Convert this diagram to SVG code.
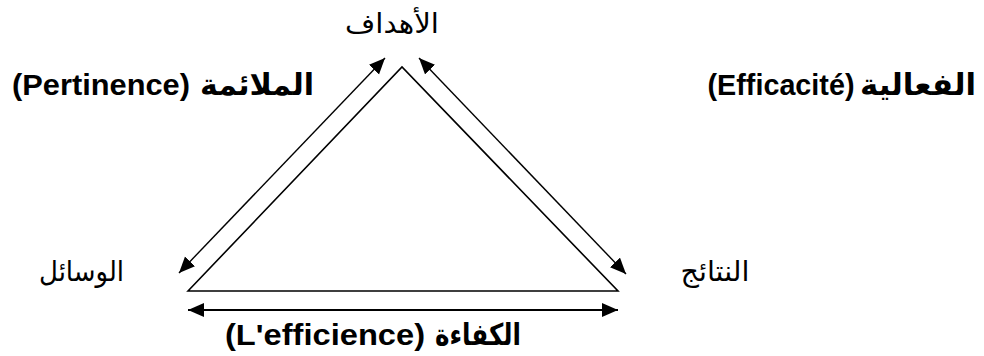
<svg xmlns="http://www.w3.org/2000/svg" width="984" height="356" viewBox="0 0 984 356">
<style>
.lbl{font-family:"Liberation Sans","DejaVu Sans",sans-serif;fill:#000;text-anchor:middle}
.ar{font-family:"DejaVu Sans","Liberation Sans",sans-serif;fill:#000;text-anchor:middle}
.b{font-weight:bold}
.conn{stroke:#000;fill:none}
</style>
<defs>
<marker id="ah" markerUnits="userSpaceOnUse" markerWidth="17" markerHeight="15" refX="16" refY="7" orient="auto-start-reverse">
<path d="M0,0 L16,7 L0,14 z" fill="#000"/>
</marker>
</defs>
<rect width="984" height="356" fill="#fff"/>
<g id="triangle">
<path d="M188,291 L402,67 L618,291 Z" fill="none" stroke="#000" stroke-width="1.6" stroke-linejoin="miter"/>
</g>
<g id="connectors">
<line class="conn" x1="179" y1="273" x2="385" y2="58" stroke-width="1.4" marker-start="url(#ah)" marker-end="url(#ah)"/>
<line class="conn" x1="419" y1="58" x2="626" y2="274" stroke-width="1.4" marker-start="url(#ah)" marker-end="url(#ah)"/>
<line class="conn" x1="188" y1="310" x2="618" y2="310" stroke-width="2" marker-start="url(#ah)" marker-end="url(#ah)"/>
</g>
<g id="node-ahdaf">
<text class="ar" x="392" y="33" font-size="27" textLength="94" lengthAdjust="spacingAndGlyphs">الأهداف</text>
</g>
<g id="node-wasail">
<text class="ar" x="81.5" y="281" font-size="28" textLength="85" lengthAdjust="spacingAndGlyphs">الوسائل</text>
</g>
<g id="node-nataij">
<text class="ar" x="715" y="281" font-size="28" textLength="69" lengthAdjust="spacingAndGlyphs">النتائج</text>
</g>
<g id="label-pertinence">
<text class="lbl b" x="101" y="95" font-size="30" textLength="178" lengthAdjust="spacingAndGlyphs">(Pertinence)</text>
<text class="ar b" x="257" y="95" font-size="30" textLength="114" lengthAdjust="spacingAndGlyphs">الملائمة</text>
</g>
<g id="label-efficacite">
<text class="lbl b" x="781" y="95" font-size="30" textLength="147" lengthAdjust="spacingAndGlyphs">(Efficacité)</text>
<text class="ar b" x="918" y="95" font-size="30" textLength="116" lengthAdjust="spacingAndGlyphs">الفعالية</text>
</g>
<g id="label-efficience">
<text class="lbl b" x="325" y="345" font-size="30" textLength="200" lengthAdjust="spacingAndGlyphs">(L'efficience)</text>
<text class="ar b" x="478" y="345" font-size="30" textLength="86" lengthAdjust="spacingAndGlyphs">الكفاءة</text>
</g>
</svg>
